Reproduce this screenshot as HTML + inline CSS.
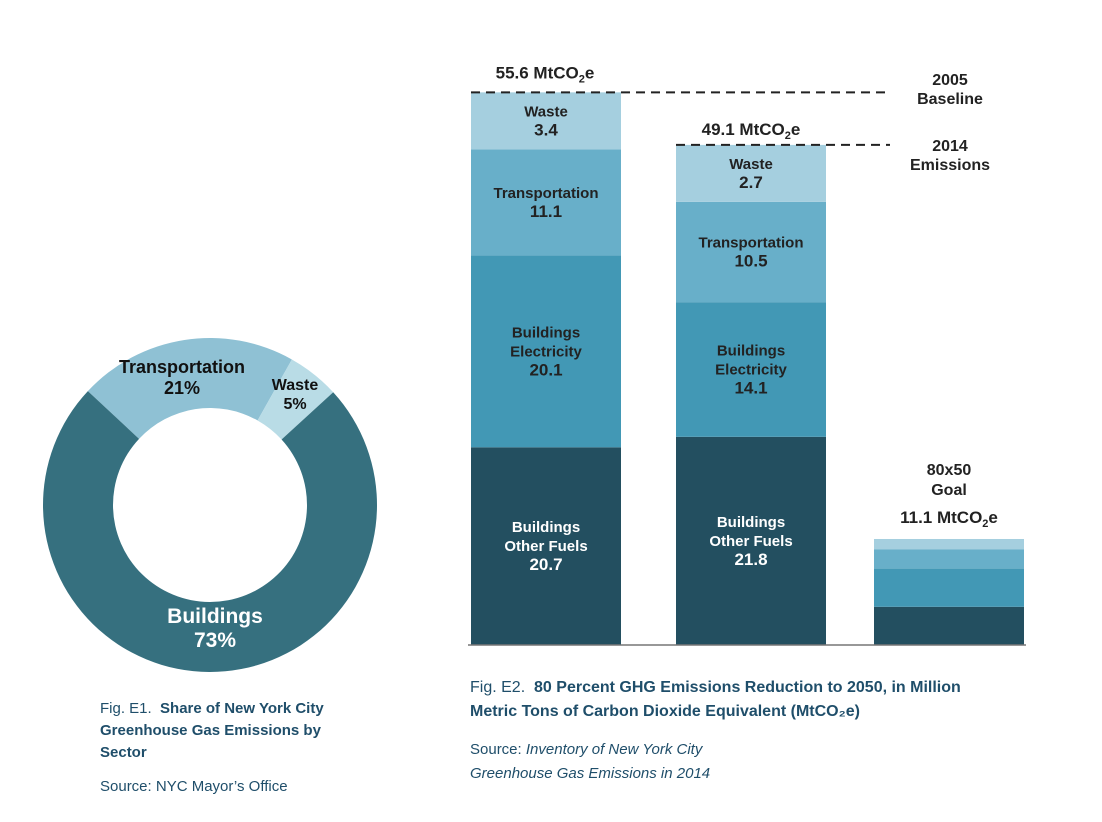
<!DOCTYPE html>
<html><head><meta charset="utf-8"><style>
body{margin:0;background:#fff;width:1102px;height:822px;overflow:hidden;font-family:"Liberation Sans",Arial,sans-serif}
svg{position:absolute;left:0;top:0}
.cap{position:absolute;color:#1f4e6a;font-size:15px;line-height:22px}
</style></head><body>
<svg id="chart" width="1102" height="822"></svg>
<div class="cap" style="left:100px;top:698px;width:260px">Fig. E1.&nbsp; <b>Share of New York City Greenhouse Gas Emissions by Sector</b></div>
<div class="cap" style="left:100px;top:776px">Source: NYC Mayor’s Office</div>
<div class="cap" style="left:470px;top:676px;font-size:16px;line-height:24px;width:528px">Fig. E2.&nbsp; <b>80 Percent GHG Emissions Reduction to 2050, in Million Metric Tons of Carbon Dioxide Equivalent (MtCO₂e)</b></div>
<div class="cap" style="left:470px;top:738px;line-height:24px">Source: <i>Inventory of New York City<br>Greenhouse Gas Emissions in 2014</i></div>
<script>
const donutLabels=["Transportation","Waste","Buildings"];
const donutValues=[21,5,73];
const barCategories=["2005","2014","2050"];
const segNames=["Buildings Other Fuels","Buildings Electricity","Transportation","Waste"];
const otherFuels=[20.7,21.8,4.0];
const electricity=[20.1,14.1,4.0];
const transportation=[11.1,10.5,2.0];
const waste=[3.4,2.7,1.1];
const totals=[55.6,49.1,11.1];

const NS="http://www.w3.org/2000/svg";
const svg=document.getElementById('chart');
function mk(t,a,p){const e=document.createElementNS(NS,t);for(const k in a)e.setAttribute(k,a[k]);(p||svg).appendChild(e);return e;}
function txt(x,y,s,opt){const e=mk('text',Object.assign({x:x,y:y,'text-anchor':'middle','font-family':'Liberation Sans, Arial, sans-serif','font-weight':'bold','font-size':15,fill:'#222'},opt||{}));e.textContent=s;return e;}

// donut
const cx=210,cy=505,R=167,r=97;
const dColors=["#8fc1d4","#b9dce6","#36707f"];
const dTotal=donutValues.reduce((a,b)=>a+b,0);
let ang=-47;
function pt(a,rad){const t=(a-90)*Math.PI/180;return [cx+rad*Math.cos(t),cy+rad*Math.sin(t)];}
donutValues.forEach((v,i)=>{
  const sweep=v/dTotal*360, a0=ang, a1=ang+sweep;
  const p0=pt(a0,R),p1=pt(a1,R),q1=pt(a1,r),q0=pt(a0,r);
  const large=sweep>180?1:0;
  const path=mk('path',{d:`M${p0[0]},${p0[1]} A${R},${R} 0 ${large} 1 ${p1[0]},${p1[1]} L${q1[0]},${q1[1]} A${r},${r} 0 ${large} 0 ${q0[0]},${q0[1]}Z`,fill:dColors[i]});
  
  
  ang=a1;
});
const dl=[[182,373,"Transportation",18,"#111"],[295,390,"Waste",16,"#111"],[215,623,"Buildings",21,"#fff"]];
dl.forEach((l,i)=>{
  const t1=txt(l[0],l[1],l[2],{'font-size':l[3],fill:l[4]});
  
  
  const t2=txt(l[0],l[1]+l[3]+3,donutValues[i]+"%",{'font-size':l[3],fill:l[4]});
  
  
});

// bars
const base=645,scale=9.55,minSeg=57,barX=[471,676,874],barW=150;
const segColors=["#234f60","#4298b5","#68afc9","#a5cfdf"];
const series=[otherFuels,electricity,transportation,waste];
const segLabelLines=[["Buildings","Other Fuels"],["Buildings","Electricity"],["Transportation"],["Waste"]];
const tops=[];
barCategories.forEach((c,b)=>{
  let yy=base;
  const labeled=b<2;
  series.forEach((s,k)=>{
    const v=s[b];
    let h=v*scale;
    if(labeled) h=Math.max(h,minSeg);
    const rect=mk('rect',{x:barX[b],y:yy-h,width:barW,height:h,fill:segColors[k]});
    
    
    if(labeled){
      const lines=segLabelLines[k].concat([v.toFixed(1)]);
      const mid=yy-h/2;
      const lh=19, start=mid-(lines.length-1)*lh/2+5;
      lines.forEach((ln,j)=>{
        const t=txt(barX[b]+barW/2,start+j*lh,ln,{'font-size':j==lines.length-1?17:15,fill:k==0?'#fff':'#222'});
        
        
      });
    }
    yy-=h;
  });
  tops.push(yy);
});
const axis=mk('line',{x1:468,y1:base,x2:1026,y2:base,stroke:'#777','stroke-width':1.5});


[0,1].forEach(b=>{
  const l=mk('line',{x1:barX[b],y1:tops[b],x2:890,y2:tops[b],stroke:'#222','stroke-width':2,'stroke-dasharray':'9,6'});
  
  
});
function total(x,yy,v,name){
  const t=txt(x,yy,'',{'font-size':17});
  
  
  t.innerHTML=v.toFixed(1)+' MtCO<tspan font-size="11" dy="4">2</tspan><tspan dy="-4">e</tspan>';
}
total(545,tops[0]-14,totals[0],'total-2005');
total(751,tops[1]-10,totals[1],'total-2014');
total(949,tops[2]-16,totals[2],'total-2050-goal');
[[950,85,"2005"],[950,104,"Baseline"],[950,151,"2014"],[950,170,"Emissions"],[949,475,"80x50"],[949,495,"Goal"]].forEach(a=>{
  const t=txt(a[0],a[1],a[2],{'font-size':16});
  
  
});
</script>
</body></html>
